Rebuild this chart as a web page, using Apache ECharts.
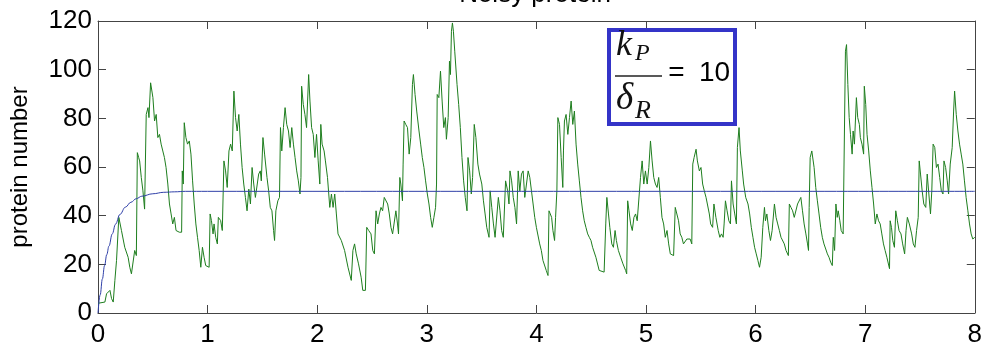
<!DOCTYPE html>
<html>
<head>
<meta charset="utf-8">
<script src="https://cdn.jsdelivr.net/npm/echarts@6/dist/echarts.min.js"></script>
<style>
html,body{margin:0;padding:0;background:#ffffff;}
#chart{width:985px;height:348px;}
</style>
</head>
<body>
<div id="chart"></div>
<script>
// ---- Data ----
const titleText = 'Noisy protein';
const yAxisTitle = 'protein number';
const xMin = 0, xMax = 8, xStep = 1;
const yMin = 0, yMax = 120, yStep = 20;

// deterministic (mean) protein curve: time, value
const detTime    = [0, 0.02, 0.04, 0.06, 0.08, 0.10, 0.13, 0.16, 0.20, 0.25, 0.30, 0.35, 0.40, 0.50, 0.60, 0.70, 0.80, 1.00, 8.00];
const detProtein = [0, 7.5, 14, 19.5, 24, 27.5, 32.5, 36.5, 40.5, 43.5, 45.5, 47, 48, 49, 49.6, 49.8, 50, 50, 50];

// stochastic trajectory, [time, protein number]
const noisyPart1 = [[0,4],[0.063,4.5],[0.078,7.9],[0.109,9.3],[0.124,5.9],[0.139,4.5],[0.154,13.4],[0.169,21.6],[0.190,39.3],[0.214,33.9],[0.244,27.0],[0.275,22.9],[0.290,18.8],[0.305,16.1],[0.320,15.4],[0.335,25.7],[0.350,23.6],[0.359,65.9],[0.371,63.9],[0.380,62.5],[0.395,55.7],[0.410,50.2],[0.425,42.7],[0.440,81.6],[0.456,84.4],[0.465,80.3],[0.480,94.6],[0.501,88.5],[0.516,78.9],[0.531,81.6],[0.546,72.1],[0.561,73.4],[0.576,69.4],[0.606,63.9],[0.621,59.8],[0.637,53.0],[0.652,44.8],[0.667,40.7],[0.682,36.6],[0.697,39.3],[0.712,33.9],[0.742,33.2],[0.763,33.2],[0.769,58.4],[0.778,53.0],[0.787,78.2],[0.802,72.1],[0.817,69.4],[0.833,70.7],[0.848,65.3],[0.863,54.3],[0.878,44.8],[0.893,36.6],[0.908,31.1],[0.923,25.7],[0.938,18.8],[0.953,27.0],[0.968,22.9],[0.983,19.5],[1.014,18.8],[1.023,40.7],[1.035,38.0],[1.050,32.5],[1.059,36.6],[1.074,31.1],[1.089,28.4],[1.098,39.3],[1.119,38.0],[1.134,33.9],[1.149,62.5],[1.164,58.4],[1.179,51.6],[1.195,66.6],[1.210,69.4],[1.225,66.6],[1.240,91.2],[1.255,80.3],[1.270,74.8],[1.285,81.6]];
const noisyPart2 = [[1.300,69.4],[1.315,59.8],[1.330,53.0],[1.345,47.5],[1.360,42.0],[1.376,50.9],[1.391,44.8],[1.406,59.8],[1.421,53.0],[1.436,47.5],[1.451,47.5],[1.466,57.1],[1.481,58.4],[1.490,54.3],[1.505,72.1],[1.520,65.3],[1.542,55.7],[1.557,50.2],[1.572,43.4],[1.587,42.0],[1.602,33.9],[1.611,29.8],[1.623,42.0],[1.641,46.1],[1.656,47.5],[1.665,76.2],[1.677,66.6],[1.692,76.2],[1.707,84.4],[1.722,77.5],[1.738,74.8],[1.753,68.0],[1.768,76.2],[1.783,69.4],[1.798,63.9],[1.813,58.4],[1.828,54.3],[1.843,48.9],[1.852,55.7],[1.858,93.2],[1.873,85.7],[1.888,81.6],[1.903,76.2],[1.922,98.0],[1.934,87.1],[1.949,76.2],[1.964,73.4],[1.979,63.9],[1.994,73.4],[2.009,62.5],[2.024,53.0],[2.033,77.5],[2.045,69.4],[2.063,66.6],[2.075,62.5],[2.094,55.7],[2.115,43.4],[2.130,48.9],[2.145,43.4],[2.160,48.9],[2.175,40.7],[2.190,32.5],[2.220,29.8],[2.250,25.7],[2.281,18.8],[2.311,13.4],[2.326,25.7],[2.341,28.4],[2.356,24.3],[2.377,20.2],[2.401,14.7],[2.416,9.3],[2.440,9.3],[2.452,35.2],[2.470,33.9],[2.491,32.5],[2.507,25.7],[2.522,24.3],[2.537,42.0],[2.552,36.6],[2.567,40.7],[2.582,43.4],[2.597,42.0],[2.612,47.5]];
const noisyPart3 = [[2.627,47.5],[2.643,44.8],[2.658,40.7],[2.673,35.2],[2.688,32.5],[2.703,32.5],[2.718,42.0],[2.733,36.6],[2.742,32.5],[2.754,55.7],[2.763,53.0],[2.778,46.1],[2.784,61.2],[2.793,78.9],[2.808,77.5],[2.824,76.2],[2.839,65.3],[2.854,72.1],[2.869,93.9],[2.878,98.0],[2.893,89.8],[2.908,83.0],[2.929,74.8],[2.944,69.4],[2.959,63.9],[2.974,59.8],[2.989,54.3],[3.005,48.9],[3.020,44.8],[3.035,39.3],[3.050,35.2],[3.065,39.3],[3.080,43.4],[3.089,53.0],[3.095,89.8],[3.110,88.5],[3.125,99.4],[3.140,87.1],[3.155,76.2],[3.170,80.3],[3.179,71.4],[3.195,80.3],[3.207,103.5],[3.216,98.0],[3.225,115.8],[3.234,119.2],[3.243,115.8],[3.255,107.6],[3.276,93.9],[3.291,85.7],[3.306,76.2],[3.321,63.9],[3.336,54.3],[3.351,47.5],[3.367,42.0],[3.376,63.9],[3.391,58.4],[3.406,48.9],[3.418,55.7],[3.433,77.5],[3.448,72.1],[3.466,61.2],[3.481,57.1],[3.502,53.0],[3.517,46.1],[3.532,40.7],[3.547,35.2],[3.568,31.1],[3.578,50.2],[3.593,43.4],[3.608,36.6],[3.623,31.1],[3.638,31.1],[3.653,47.5],[3.668,42.0],[3.683,33.9],[3.698,31.1],[3.719,54.3],[3.738,50.2],[3.750,44.8],[3.759,58.4],[3.774,54.3],[3.789,47.5],[3.804,43.4],[3.819,36.6],[3.834,58.4],[3.849,50.2],[3.864,57.1],[3.879,58.4],[3.894,47.5],[3.910,47.5],[3.925,58.4]];
const noisyPart4 = [[3.940,55.7],[3.955,50.2],[3.970,44.8],[3.985,39.3],[4.000,35.2],[4.030,28.4],[4.045,25.7],[4.060,21.6],[4.090,17.5],[4.106,15.4],[4.115,42.0],[4.127,40.7],[4.139,39.3],[4.151,33.9],[4.166,29.8],[4.175,39.3],[4.187,50.2],[4.196,80.3],[4.211,77.5],[4.226,63.9],[4.241,51.6],[4.247,66.6],[4.256,78.9],[4.271,81.6],[4.287,73.4],[4.302,80.3],[4.317,87.1],[4.332,77.5],[4.347,83.0],[4.362,69.4],[4.377,61.2],[4.392,54.3],[4.407,47.5],[4.422,42.0],[4.437,37.9],[4.452,35.2],[4.468,32.5],[4.483,31.1],[4.498,29.8],[4.513,27.0],[4.543,22.9],[4.573,17.5],[4.618,16.8],[4.633,36.6],[4.643,47.5],[4.658,40.7],[4.670,35.2],[4.688,28.4],[4.703,27.0],[4.718,33.9],[4.730,29.8],[4.748,25.7],[4.769,22.9],[4.790,20.2],[4.814,17.5],[4.824,16.1],[4.833,46.1],[4.845,42.0],[4.860,36.6],[4.875,33.9],[4.890,39.3],[4.905,40.7],[4.920,37.9],[4.938,38.5],[4.950,55.7],[4.965,62.5],[4.980,53.0],[4.995,58.4],[5.011,53.0],[5.026,59.8],[5.041,70.7],[5.056,62.5],[5.071,55.7],[5.086,53.0],[5.101,51.6],[5.116,55.7],[5.131,47.5],[5.146,39.3],[5.161,36.6],[5.176,31.1],[5.192,33.9],[5.207,28.4],[5.222,24.3],[5.252,23.6]];
const noisyPart5 = [[5.258,23.6],[5.267,43.4],[5.282,43.4],[5.297,37.9],[5.312,32.5],[5.327,31.1],[5.342,28.4],[5.357,29.1],[5.373,30.4],[5.388,31.1],[5.403,30.4],[5.418,28.4],[5.427,61.2],[5.439,63.9],[5.457,67.3],[5.469,62.5],[5.487,58.4],[5.502,59.8],[5.517,53.0],[5.532,50.2],[5.548,47.5],[5.560,44.8],[5.578,40.7],[5.590,36.6],[5.608,35.2],[5.620,44.8],[5.638,39.3],[5.659,33.9],[5.674,31.1],[5.689,32.5],[5.704,31.1],[5.713,36.6],[5.725,46.1],[5.740,42.0],[5.756,37.9],[5.771,36.6],[5.780,54.3],[5.795,44.8],[5.810,40.7],[5.825,36.6],[5.834,68.0],[5.849,76.2],[5.861,66.6],[5.879,58.4],[5.891,53.0],[5.910,47.5],[5.931,44.8],[5.946,40.7],[5.961,35.2],[5.976,31.1],[5.991,27.0],[6.006,24.3],[6.021,21.6],[6.036,18.8],[6.051,22.9],[6.066,35.2],[6.081,43.4],[6.090,37.9],[6.103,40.7],[6.121,33.9],[6.136,29.8],[6.151,33.9],[6.172,44.8],[6.187,39.3],[6.202,36.6],[6.217,33.9],[6.232,31.1],[6.247,31.1],[6.262,28.4],[6.278,25.7],[6.299,23.6],[6.308,44.8],[6.323,43.4],[6.338,42.0],[6.353,39.3],[6.368,39.3],[6.383,44.8],[6.398,44.8],[6.413,47.5],[6.428,42.0],[6.443,36.6],[6.459,32.5],[6.474,28.4],[6.483,25.7],[6.489,43.4],[6.498,63.9],[6.513,66.6],[6.534,59.8]];
const noisyPart6 = [[6.549,51.6],[6.564,46.1],[6.579,40.7],[6.594,35.2],[6.609,31.1],[6.624,28.4],[6.640,26.3],[6.655,24.3],[6.670,22.9],[6.685,20.9],[6.700,19.5],[6.709,31.1],[6.721,25.7],[6.733,44.8],[6.745,39.3],[6.754,42.0],[6.769,37.9],[6.781,33.9],[6.799,32.5],[6.811,32.5],[6.820,107.6],[6.830,110.3],[6.842,93.9],[6.854,80.3],[6.866,73.4],[6.881,65.3],[6.890,74.8],[6.902,69.4],[6.920,88.5],[6.932,80.3],[6.947,77.5],[6.956,72.1],[6.971,69.4],[6.986,65.3],[6.992,93.2],[7.005,85.7],[7.017,73.4],[7.032,66.6],[7.047,58.4],[7.062,51.6],[7.077,44.8],[7.092,36.6],[7.107,40.7],[7.122,37.9],[7.137,36.6],[7.152,32.5],[7.167,28.4],[7.182,25.7],[7.198,22.9],[7.222,18.2],[7.228,37.9],[7.240,35.2],[7.252,29.8],[7.267,27.0],[7.279,42.0],[7.294,37.9],[7.309,33.9],[7.327,32.5],[7.342,28.4],[7.360,24.3],[7.373,33.9],[7.385,39.3],[7.403,36.6],[7.424,32.5],[7.439,28.4],[7.454,27.0],[7.469,33.9],[7.484,39.3],[7.493,62.5],[7.505,57.1],[7.520,50.2],[7.535,44.8],[7.553,43.4],[7.566,57.1],[7.581,48.9],[7.596,40.7],[7.608,50.2],[7.620,69.4],[7.635,68.0],[7.650,59.8],[7.665,61.2],[7.680,55.7],[7.695,50.2],[7.710,48.9],[7.719,62.5],[7.734,59.8],[7.749,54.3],[7.761,48.9],[7.776,61.2],[7.794,68.0],[7.807,83.0],[7.816,91.2],[7.831,81.6],[7.846,74.8],[7.861,69.4],[7.876,65.3],[7.891,61.2],[7.906,54.3],[7.921,47.5],[7.937,42.0],[7.952,36.6],[7.967,32.5],[7.982,30.4],[8.000,31.1]];

// ---- Chart ----
const noisyData = noisyPart1.concat(noisyPart2, noisyPart3, noisyPart4, noisyPart5, noisyPart6);
const detData = detTime.map((t, i) => [t, detProtein[i]]);

const FONT = '"Liberation Sans", Arial, Helvetica, sans-serif';
const SERIF = '"Liberation Serif", "Times New Roman", serif';
const axisColor = '#444444';

const chart = echarts.init(document.getElementById('chart'), null, {renderer: 'canvas'});

const xBase = {
  type: 'value', min: xMin, max: xMax, interval: xStep,
  splitLine: {show: false},
  axisLine: {show: true, onZero: false, lineStyle: {color: axisColor, width: 1}},
  axisTick: {show: true, inside: true, length: 8, lineStyle: {color: axisColor, width: 1}}
};
const yBase = {
  type: 'value', min: yMin, max: yMax, interval: yStep,
  splitLine: {show: false},
  axisLine: {show: true, onZero: false, lineStyle: {color: axisColor, width: 1}},
  axisTick: {show: true, inside: true, length: 8, lineStyle: {color: axisColor, width: 1}}
};

chart.setOption({
  animation: false,
  backgroundColor: '#ffffff',
  grid: {left: 93, right: 8, top: 21, bottom: 34, containLabel: false},
  xAxis: [
    Object.assign({}, xBase, {
      position: 'bottom',
      axisLabel: {show: true, color: '#000', fontSize: 26, fontFamily: FONT, margin: 9, showMinLabel: true, showMaxLabel: true}
    }),
    Object.assign({}, xBase, {position: 'top', axisLabel: {show: false}})
  ],
  yAxis: [
    Object.assign({}, yBase, {
      position: 'left',
      name: yAxisTitle, nameLocation: 'middle', nameGap: 66,
      nameTextStyle: {color: '#000', fontSize: 24, fontFamily: FONT},
      axisLabel: {show: true, color: '#000', fontSize: 26, fontFamily: FONT, margin: 6, showMinLabel: true, showMaxLabel: true}
    }),
    Object.assign({}, yBase, {position: 'right', axisLabel: {show: false}})
  ],
  series: [
    {
      name: 'stochastic', type: 'line', xAxisIndex: 0, yAxisIndex: 0,
      data: noisyData, showSymbol: false, symbol: 'none',
      lineStyle: {color: '#1e7e1e', width: 1}, z: 2
    },
    {
      name: 'deterministic', type: 'line', xAxisIndex: 0, yAxisIndex: 0,
      data: detData, showSymbol: false, symbol: 'none',
      smooth: 0.4, smoothMonotone: 'x',
      lineStyle: {color: '#3040a8', width: 1}, z: 3
    }
  ],
  graphic: [
    {type: 'text', x: 535, y: -5, z: 50,
     style: {text: titleText, fill: '#000', fontSize: 26, fontFamily: FONT, align: 'center', textAlign: 'center', verticalAlign: 'middle', textVerticalAlign: 'middle'}},
    {type: 'rect', z: 100, shape: {x: 609, y: 30, width: 126, height: 94},
     style: {fill: '#ffffff', stroke: '#3434c8', lineWidth: 4}},
    {type: 'text', x: 616, y: 46, z: 101,
     style: {text: 'k', fill: '#111', fontSize: 36, fontStyle: 'italic', fontFamily: SERIF, align: 'left', textAlign: 'left', verticalAlign: 'middle', textVerticalAlign: 'middle'}},
    {type: 'text', x: 635, y: 54, z: 101,
     style: {text: 'P', fill: '#111', fontSize: 24, fontStyle: 'italic', fontFamily: SERIF, align: 'left', textAlign: 'left', verticalAlign: 'middle', textVerticalAlign: 'middle'}},
    {type: 'line', z: 101, shape: {x1: 615, y1: 76, x2: 662, y2: 76},
     style: {stroke: '#222', lineWidth: 1.4}},
    {type: 'text', x: 616, y: 99, z: 101,
     style: {text: 'δ', fill: '#111', fontSize: 37, fontStyle: 'italic', fontFamily: SERIF, align: 'left', textAlign: 'left', verticalAlign: 'middle', textVerticalAlign: 'middle'}},
    {type: 'text', x: 635, y: 111, z: 101,
     style: {text: 'R', fill: '#111', fontSize: 26, fontStyle: 'italic', fontFamily: SERIF, align: 'left', textAlign: 'left', verticalAlign: 'middle', textVerticalAlign: 'middle'}},
    {type: 'text', x: 676.5, y: 73, z: 101,
     style: {text: '=', fill: '#000', fontSize: 28, fontFamily: FONT, align: 'center', textAlign: 'center', verticalAlign: 'middle', textVerticalAlign: 'middle'}},
    {type: 'text', x: 699, y: 73, z: 101,
     style: {text: '10', fill: '#000', fontSize: 28, fontFamily: FONT, align: 'left', textAlign: 'left', verticalAlign: 'middle', textVerticalAlign: 'middle'}}
  ]
});
</script>
</body>
</html>
